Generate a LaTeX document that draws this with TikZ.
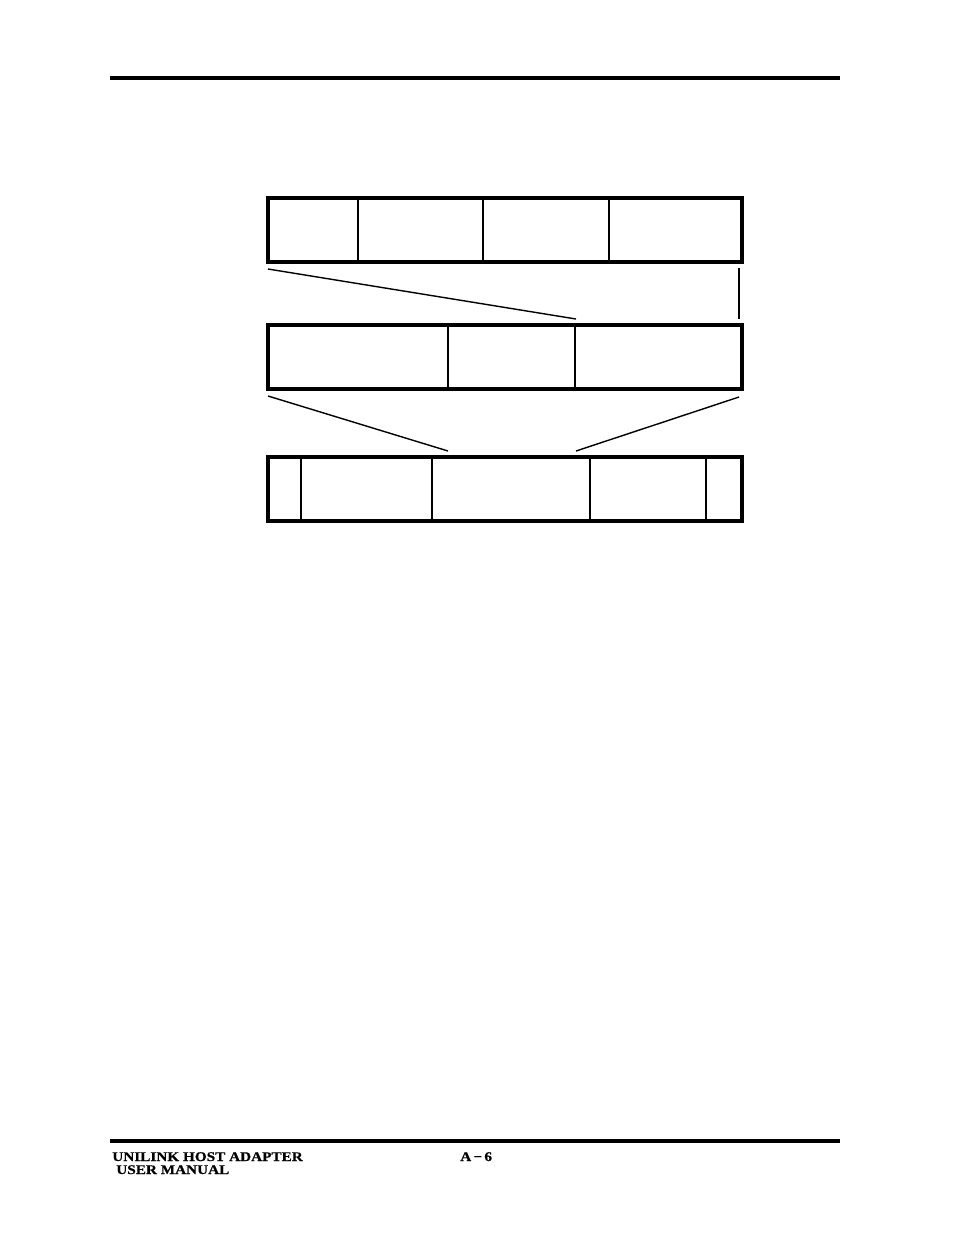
\documentclass[tikz,border=0pt]{standalone}
\usepackage{fontspec}
\newfontfamily\footfont[FakeStretch=1.15,FakeBold=0.6]{Liberation Serif}
\usepackage{tikz}
\usetikzlibrary{calc,positioning}
\newcommand{\pxu}{0.6415pt}
\tikzset{
    field/.style={
    rectangle,draw=black,line width=0.8pt,inner sep=0pt,outer sep=0pt,minimum height=64*\pxu,anchor=north west
    },
    frame/.style={draw=black,line width=2.1pt,line cap=round},
    thickdiv/.style={draw=black,line width=1.3pt},
    rule/.style={draw=black,line width=2pt},
  line/.style={draw, line width=0.9pt},
  foot/.style={anchor=base west,inner sep=0pt,font=\footfont\bfseries\fontsize{8.5}{9}\selectfont}
}
\begin{document}
\begin{tikzpicture}[x=0.6415pt,y=-0.6415pt]
    \useasboundingbox (0,0) rectangle (954,1235);

    \draw[rule] (110,78) -- (840,78);
    \draw[rule] (110,1141) -- (840,1141);

    % top word
    \node[field,minimum width=90*\pxu] (w1) at (268,198) {};
    \node[field,minimum width=125*\pxu,right=0pt of w1] (w2) {};
    \node[field,minimum width=126*\pxu,right=0pt of w2] (w3) {};
    \node[field,minimum width=133*\pxu,right=0pt of w3] (w4) {};

    % middle word
    \node[field,minimum width=180*\pxu] (m1) at (268,325) {};
    \node[field,minimum width=127*\pxu,right=0pt of m1] (m2) {};
    \node[field,minimum width=167*\pxu,right=0pt of m2] (m3) {};

    % bottom word
    \node[field,minimum width=33*\pxu] (b1) at (268,457) {};
    \node[field,minimum width=131*\pxu,right=0pt of b1] (b2) {};
    \node[field,minimum width=158*\pxu,right=0pt of b2] (b3) {};
    \node[field,minimum width=116*\pxu,right=0pt of b3] (b4) {};
    \node[field,minimum width=36*\pxu,right=0pt of b4] (b5) {};

    \draw[frame] (w1.north west) rectangle (w4.south east);
    \draw[frame] (m1.north west) rectangle (m3.south east);
    \draw[frame] (b1.north west) rectangle (b5.south east);
    \draw[thickdiv] (w1.north east) -- (w1.south east);
    \draw[thickdiv] (m1.north east) -- (m1.south east);
    \draw[thickdiv] (m2.north east) -- (m2.south east);
    \draw[thickdiv] (b1.north east) -- (b1.south east);
    \draw[thickdiv] (b3.north east) -- (b3.south east);

    \coordinate (ta) at ($(w1.south west)+(0,7)$);
    \coordinate (tb) at ($(m3.north west)+(1,-6)$);
    \coordinate (tc) at ($(w4.south east)+(-3,6)$);
    \coordinate (td) at ($(m3.north east)+(-3,-6)$);
    \coordinate (ma) at ($(m1.south west)+(0,7)$);
    \coordinate (mb) at ($(m2.north west |- b2.north)+(0,-6)$);
    \coordinate (mc) at ($(m3.south east)+(-3,8)$);
    \coordinate (md) at ($(m3.north west |- b3.north)+(1,-6)$);

    \begin{scope} [every path/.style=line]
      \path (ta) -- (tb);
      \path (tc) -- (td);
      \path (ma) -- (mb);
      \path (mc) -- (md);
    \end{scope}

    \node[foot] (unit) at (112,1161) {UNILINK HOST ADAPTER};
    \node[foot] (man) at (116,1174) {USER MANUAL};
    \node[foot] (page) at (460,1161) {A\,−\,6};
\end{tikzpicture}
\end{document}
